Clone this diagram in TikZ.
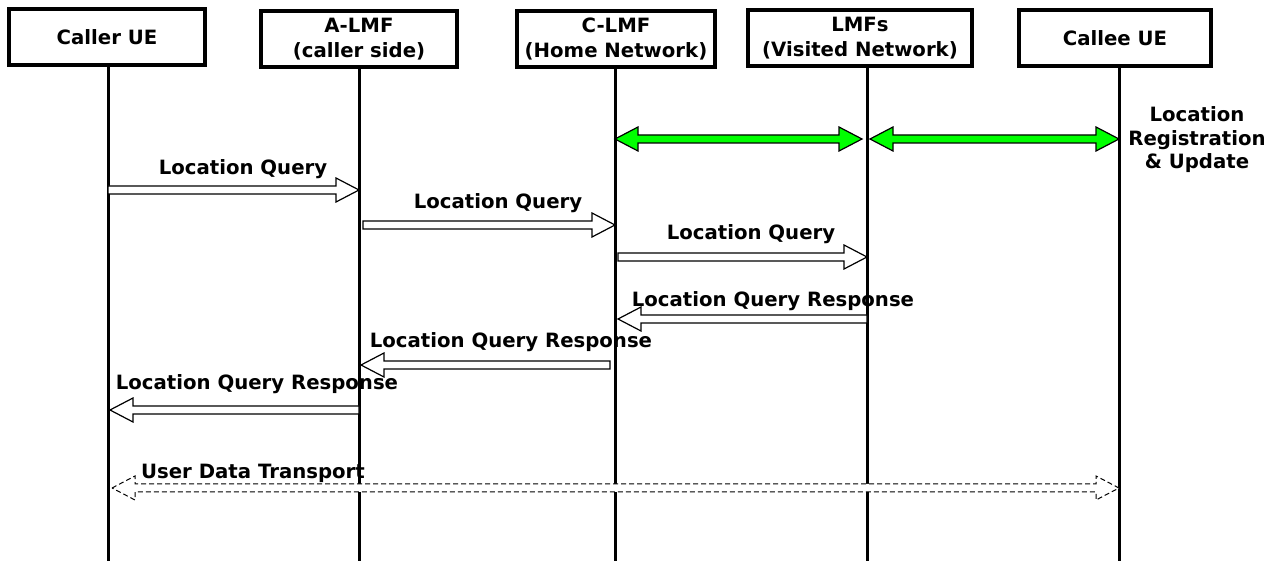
\documentclass[tikz,border=0pt]{standalone}
\usepackage{fontspec}
\setmainfont{DejaVu Sans}
\usetikzlibrary{calc}
\definecolor{reggreen}{RGB}{0,255,0}

\newcommand{\msgarrow}[3][]{%
  \draw[msg,#1] let \p1=(#2), \p2=(#3), \n1={ifthenelse(\x2>\x1,11.5,-11.5)} in
    (\x1,\y1+2pt) -- ({\x2-\n1},\y1+2pt) -- ({\x2-\n1},\y1+6pt) -- (\x2,\y1)
    -- ({\x2-\n1},\y1-6pt) -- ({\x2-\n1},\y1-2pt) -- (\x1,\y1-2pt) -- cycle;}
\newcommand{\biarrow}[3][]{%
  \draw[msg,#1] let \p1=(#2), \p2=(#3) in
    (\x1,\y1) -- (\x1+11.5pt,\y1+6pt) -- (\x1+11.5pt,\y1+2pt) -- (\x2-11.5pt,\y1+2pt)
    -- (\x2-11.5pt,\y1+6pt) -- (\x2,\y1) -- (\x2-11.5pt,\y1-6pt) -- (\x2-11.5pt,\y1-2pt)
    -- (\x1+11.5pt,\y1-2pt) -- (\x1+11.5pt,\y1-6pt) -- cycle;}

\begin{document}
\begin{tikzpicture}[x=0.5pt,y=-0.5pt,
  every node/.style={font=\fontsize{9.85}{12.5}\selectfont\bfseries},
  box/.style={draw,line width=2pt,align=center,minimum height=28pt,inner sep=0pt},
  lifeline/.style={line width=1.5pt},
  msg/.style={draw,line width=0.6pt,fill=white},
  udt/.style={line width=0.5pt,dash pattern=on 2.5pt off 1.5pt},
  msglabel/.style={anchor=base}]

  \useasboundingbox (0,0) rectangle (1276,561);

  \node[box,minimum width=98pt] (caller) at (107,37) {Caller UE};
  \node[box,minimum width=98pt] (alf) at (359,39) {A-LMF\\(caller side)};
  \node[box,minimum width=99pt] (clf) at (616,39) {C-LMF\\(Home Network)};
  \node[box,minimum width=112pt] (vlf) at (860,38.5) {LMFs\\(Visited Network)};
  \node[box,minimum width=96pt] (callee) at (1115,38.5) {Callee UE};

  \foreach \b/\x in {caller/108,alf/359,clf/615,vlf/867,callee/1119}{
    \coordinate (\b-end) at (\x,561);
    \draw[lifeline] (\b.south -| \b-end) -- (\b-end);
  }

  \coordinate (r0) at (0,139);
  \coordinate (r1) at (0,190);
  \coordinate (r2) at (0,225);
  \coordinate (r3) at (0,257);
  \coordinate (r4) at (0,319);
  \coordinate (r5) at (0,365);
  \coordinate (r6) at (0,410);
  \coordinate (r7) at (0,488);

  \biarrow[fill=reggreen]{clf-end |- r0}{$(vlf-end |- r0)+(-5,0)$}
  \biarrow[fill=reggreen]{$(vlf-end |- r0)+(3,0)$}{callee-end |- r0}
  \node[align=center,font=\fontsize{9.85}{11.75}\selectfont\bfseries] (reg) at (1197,140) {Location\\Registration\\\& Update};

  \msgarrow{caller-end |- r1}{alf-end |- r1}
  \msgarrow{$(alf-end |- r2)+(4,0)$}{clf-end |- r2}
  \msgarrow{$(clf-end |- r3)+(3,0)$}{vlf-end |- r3}
  \msgarrow{vlf-end |- r4}{$(clf-end |- r4)+(3,0)$}
  \msgarrow{$(clf-end |- r5)+(-5,0)$}{$(alf-end |- r5)+(2,0)$}
  \msgarrow{alf-end |- r6}{$(caller-end |- r6)+(2,0)$}
  \biarrow[udt]{$(caller-end |- r7)+(4,0)$}{callee-end |- r7}

  \node[msglabel] (q1) at (243,175) {Location Query};
  \node[msglabel] (q2) at (498,209) {Location Query};
  \node[msglabel] (q3) at (751,240) {Location Query};
  \node[msglabel] (a3) at (773,307) {Location Query Response};
  \node[msglabel] (a2) at (511,348) {Location Query Response};
  \node[msglabel] (a1) at (257,390) {Location Query Response};
  \node[msglabel] (ud) at (253,479) {User Data Transport};
\end{tikzpicture}
\end{document}
